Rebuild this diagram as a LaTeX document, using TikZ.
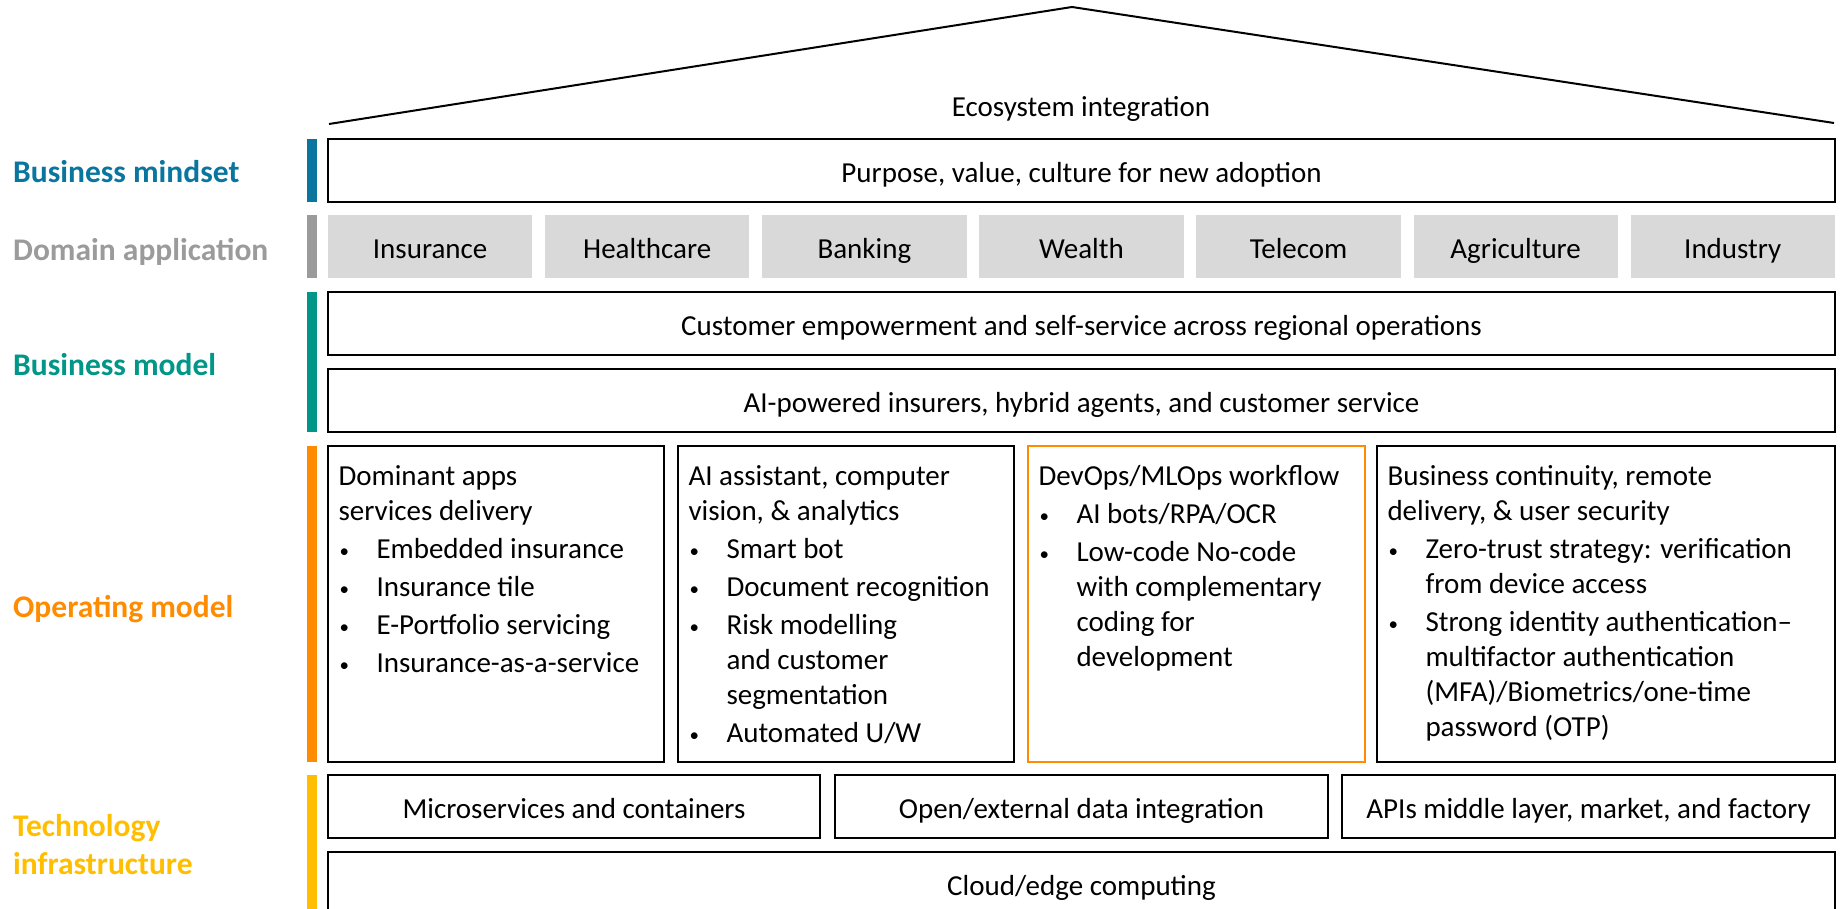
\documentclass[tikz,border=0pt]{standalone}
\usepackage{fontspec}
\setmainfont{Carlito}
\usepackage{xcolor}
\usepackage{tikz}

\definecolor{mindsetblue}{RGB}{10,118,160}
\definecolor{domaingrey}{RGB}{155,155,155}
\definecolor{modelteal}{RGB}{0,150,136}
\definecolor{operorange}{RGB}{255,140,0}
\definecolor{techyellow}{RGB}{255,190,0}
\definecolor{tilefill}{RGB}{217,217,217}

\newcommand{\bodysize}{\fontsize{29}{35}\selectfont}
\newcommand{\layersize}{\fontsize{31.5}{38}\selectfont\bfseries}
\newcommand{\bulletitem}{\makebox[38pt][l]{\hspace{1pt}\raisebox{1.5pt}{\fontsize{19}{19}\selectfont\textbullet}}}
\newcommand{\wrapindent}{\hspace*{38pt}}
\newcommand{\cellbody}[2]{\parbox[t]{#1}{\bodysize\setlength{\parskip}{3pt}#2}}

\tikzstyle{layerbox} = [draw=black, line width=2pt, inner sep=0pt, outer sep=0pt, minimum height=63pt, text height=23.6pt, text depth=0pt, font=\bodysize, anchor=north west]
\tikzstyle{fullwidth} = [minimum width=1507pt]
\tikzstyle{tile} = [fill=tilefill, inner sep=0pt, outer sep=0pt, minimum width=204.3pt, minimum height=63pt, text height=23.6pt, text depth=0pt, font=\bodysize, anchor=north west]
\tikzstyle{opbox} = [draw=black, line width=2pt, inner xsep=10.5pt, inner ysep=0pt, outer sep=0pt, text height=39.5pt, text depth=276.5pt, anchor=north west]
\tikzstyle{layername} = [inner sep=0pt, font=\layersize, anchor=base west]

\begin{document}
\begin{tikzpicture}[x=1pt, y=-1pt]
   \useasboundingbox (0,0) rectangle (1843,909);
   \clip (0,0) rectangle (1843,909);

   % roof
   \coordinate (roofL) at (329,124);
   \coordinate (apex) at (1072,7);
   \coordinate (roofR) at (1834,123);
   \draw [line width=2pt] (roofL) -- (apex) -- (roofR);
   \node (eco) [inner sep=0pt, font=\bodysize, anchor=base] at (1081,116.5) {Ecosystem integration};

   % coloured side bars
   \fill [mindsetblue] (307,139) rectangle (317,202);
   \fill [domaingrey] (307,215) rectangle (317,278);
   \fill [modelteal] (307,292) rectangle (317,432);
   \fill [operorange] (307,446) rectangle (317,762);
   \fill [techyellow] (307,775) rectangle (317,916);

   % layer names
   \node (lblmindset) [layername, text=mindsetblue] at (13,183) {Business mindset};
   \node (lbldomain) [layername, text=domaingrey] at (13,260) {Domain application};
   \node (lblmodel) [layername, text=modelteal] at (13,375) {Business model};
   \node (lbloperating) [layername, text=operorange] at (13,617) {Operating model};
   \node (lbltech) [layername, text=techyellow] at (13,836) {\parbox[t]{280pt}{\layersize Technology\\infrastructure}};

   % business mindset
   \node (purpose) [layerbox, fullwidth] at (328,139) {Purpose, value, culture for new adoption};

   % domain application
   \foreach \dom [count=\i from 0] in {Insurance, Healthcare, Banking, Wealth, Telecom, Agriculture, Industry}
      \node (dom\i) [tile] at ({328+217.1*\i},215) {\dom};

   % business model
   \node (empower) [layerbox, fullwidth] at (328,292) {Customer empowerment and self-service across regional operations};
   \node (aipowered) [layerbox, fullwidth] at (328,369) {AI-powered insurers, hybrid agents, and customer service};

   % operating model
   \node (apps) [opbox] at (328,446) {\cellbody{315pt}{Dominant apps\\ services delivery\par
      \bulletitem Embedded insurance\par
      \bulletitem Insurance tile\par
      \bulletitem E-Portfolio servicing\par
      \bulletitem Insurance-as-a-service}};
   \node (assistant) [opbox] at (678,446) {\cellbody{315pt}{AI assistant, computer\\ vision, \& analytics\par
      \bulletitem Smart bot\par
      \bulletitem Document recognition\par
      \bulletitem Risk modelling\\ \wrapindent and customer\\ \wrapindent segmentation\par
      \bulletitem Automated U/W}};
   \node (devops) [opbox, draw=operorange] at (1028,446) {\cellbody{316pt}{DevOps/MLOps workflow\par
      \bulletitem AI bots/RPA/OCR\par
      \bulletitem Low-code No-code\\ \wrapindent with complementary\\ \wrapindent coding for\\ \wrapindent development}};
   \node (continuity) [opbox] at (1377,446) {\cellbody{437pt}{Business continuity, remote\\ delivery, \& user security\par
      \bulletitem Zero-trust strategy: verification\\ \wrapindent from device access\par
      \bulletitem Strong identity authentication–\\ \wrapindent multifactor authentication\\ \wrapindent (MFA)/Biometrics/one-time\\ \wrapindent password (OTP)}};

   % technology infrastructure
   \node (micro) [layerbox, minimum width=492pt] at (328,775) {Microservices and containers};
   \node (opendata) [layerbox, minimum width=493pt] at (835,775) {Open/external data integration};
   \node (apis) [layerbox, minimum width=493pt] at (1342,775) {APIs middle layer, market, and factory};
   \node (cloud) [layerbox, fullwidth] at (328,852) {Cloud/edge computing};
\end{tikzpicture}
\end{document}
